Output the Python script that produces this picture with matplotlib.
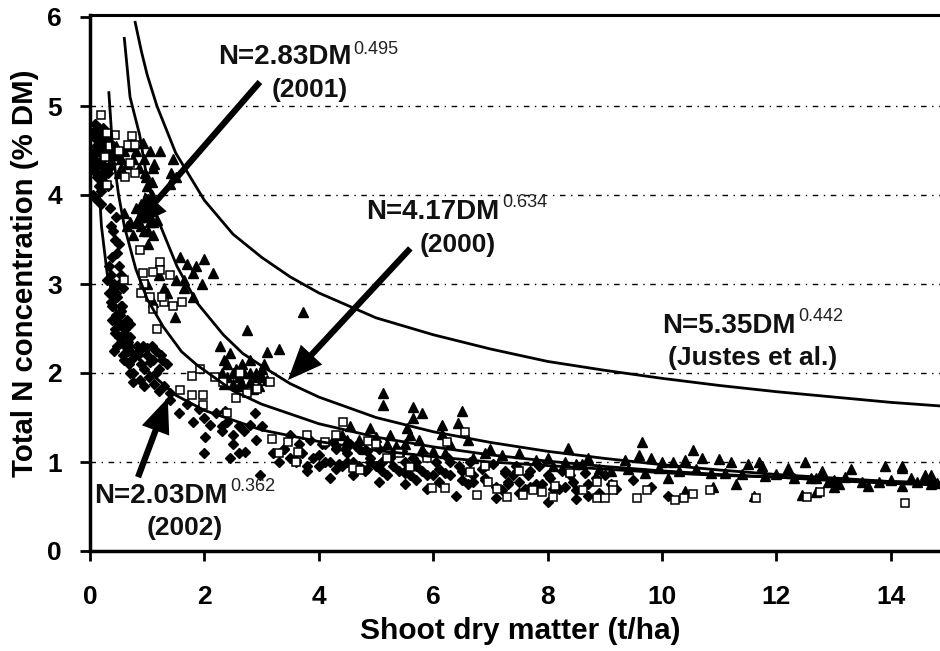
import matplotlib
matplotlib.use("Agg")
import matplotlib.pyplot as plt

plt.rcParams['font.family'] = ['Liberation Sans', 'DejaVu Sans']

# fitted curves
just_x = [0.79, 0.9, 1.0, 1.17, 1.5, 2, 2.5, 3, 3.5, 4, 5, 6, 7, 8, 9, 10, 11, 12, 13, 14, 14.86]
just_y = [5.94, 5.61, 5.35, 5.0, 4.47, 3.94, 3.56, 3.30, 3.08, 2.90, 2.62, 2.43, 2.27, 2.13, 2.03, 1.94, 1.86, 1.79, 1.73, 1.67, 1.63]
n2000_x = [0.6, 0.7, 0.87, 1.0, 1.17, 1.52, 1.87, 2.33, 2.67, 3, 3.5, 4, 5, 6, 7, 8, 9, 10, 11, 12, 13, 14, 14.86]
n2000_y = [5.76, 5.10, 4.67, 4.17, 3.75, 3.20, 2.79, 2.43, 2.22, 2.08, 1.88, 1.73, 1.50, 1.34, 1.22, 1.12, 1.04, 0.97, 0.91, 0.86, 0.82, 0.78, 0.75]
n2001_x = [0.33, 0.4, 0.5, 0.6, 0.8, 1.0, 1.28, 1.6, 1.87, 2.5, 3, 4, 5, 6, 7, 8, 9, 10, 11, 12, 13, 14, 14.86]
n2001_y = [5.15, 4.47, 4.0, 3.65, 3.17, 2.83, 2.52, 2.24, 2.09, 1.80, 1.65, 1.43, 1.28, 1.17, 1.08, 1.01, 0.95, 0.90, 0.86, 0.83, 0.79, 0.76, 0.74]
n2002_x = [0.12, 0.2, 0.3, 0.5, 0.7, 1.0, 1.5, 2, 3, 4, 5, 6, 7, 8, 9, 10, 11, 12, 13, 14, 14.86]
n2002_y = [4.5, 3.65, 3.12, 2.60, 2.30, 2.03, 1.75, 1.58, 1.36, 1.23, 1.13, 1.06, 1.00, 0.96, 0.92, 0.88, 0.85, 0.83, 0.80, 0.78, 0.77]

# observations 2000 (squares)
sq_x = [0.19,0.3,0.73,0.66,0.79,0.26,0.7,0.61,0.79,0.3,0.44,0.87,1.22,0.93,1.22,1.1,0.35,0.5,0.6,0.9,1.05,1.3,1.45,1.6,0.95,1.1,1.25,1.4,
        1.17,1.57,1.78,1.92,2.19,1.78,1.98,1.98,2.33,3.15,2.92,2.74,2.62,3.18,3.46,3.64,2.4,2.55,3.8,4.1,4.42,4.6,4.72,4.86,
        5.2,5.6,5.98,6.2,6.24,6.56,6.77,6.96,7.11,7.29,7.57,7.74,7.9,8.1,8.13,8.62,8.86,8.86,9.0,9.14,9.14,6.64,
        9.57,9.73,10.23,10.38,10.55,10.84,11.64,12.53,12.76,14.25,3.3,3.6,4.3,5.0,5.4,5.9,6.9,7.5,8.4]
sq_y = [4.9,4.7,4.66,4.56,4.56,4.43,4.36,4.2,4.25,4.11,4.67,3.38,3.25,3.12,3.16,3.13,4.55,4.5,3.05,2.9,2.85,2.8,2.75,2.8,3.0,2.72,2.85,3.1,
        2.5,1.81,1.97,2.05,1.96,1.75,1.75,1.64,1.9,1.9,1.82,1.78,2.0,1.26,1.22,1.11,1.55,1.72,1.3,1.22,1.45,0.93,0.91,1.24,
        1.05,0.94,0.71,0.71,1.22,1.34,0.63,0.78,0.7,0.61,0.63,0.69,0.66,0.61,0.73,0.69,0.78,0.6,0.6,0.74,0.69,0.89,
        0.6,0.68,0.57,0.6,0.64,0.68,0.6,0.61,0.66,0.54,1.1,1.0,1.3,1.2,1.1,1.05,0.95,0.9,0.88]

# observations 2001 (triangles)
tr_x = [0.1,0.15,0.2,0.25,0.3,0.35,0.4,0.45,0.5,0.55,0.6,0.65,0.7,0.75,0.8,0.85,0.93,0.95,0.97,1.0,1.02,1.05,1.08,1.1,1.22,1.45,1.42,1.5,1.4,
        0.7,0.8,0.9,1.0,1.1,1.17,0.75,0.95,1.57,1.7,1.85,2.0,2.15,1.65,1.8,1.95,1.0,1.2,1.35,1.5,1.65,1.8,1.49,1.1,1.3,
        3.72,2.74,3.1,3.3,2.27,2.35,2.45,2.55,2.65,2.8,2.9,3.0,3.1,2.4,2.6,2.85,3.0,
        5.12,5.12,5.65,5.65,5.8,6.5,6.43,6.15,6.15,5.55,5.6,5.25,4.9,4.55,4.4,4.7,5.0,5.35,5.8,6.3,6.7,7.0,7.5,8.0,8.36,8.3,8.7,
        9.65,10.54,9.35,9.6,9.8,10.0,10.2,10.4,10.7,11.0,11.2,11.5,11.7,11.75,12.2,12.5,12.8,13.3,13.9,14.2,14.7,
        10.1,10.4,10.9,11.3,11.6,12.7,12.9,13.0,13.6,14.2,14.7,14.6,14.2,14.35,12.45,12.7,13.1,
        8.1,8.5,8.9,9.1,9.4,9.7,9.95,10.3,10.6,10.85,11.1,11.4,11.8,12.0,12.3,12.6,13.0,13.2,13.5,13.8,14.0,14.45,14.8,
        1.05,1.12,0.98,1.08,0.9,1.0,1.1,0.85,0.95,1.05,0.8,0.9,0.65,0.6,0.55,0.5,0.45,1.02,1.1,1.02,
        2.3,2.4,2.5,2.6,2.7,2.8,2.9,2.35,2.5,2.65,2.8,2.95,3.05,4.3,4.5,4.8,5.2,5.4,5.5,5.75,6.0,6.2,6.6,6.9,7.2,7.8,8.6]
tr_y = [4.5,4.65,4.4,4.55,4.3,4.6,4.45,4.5,4.25,4.4,4.5,4.35,4.55,4.4,4.5,4.3,4.58,4.4,4.25,4.1,3.95,3.85,4.15,4.3,4.5,4.4,4.25,4.2,4.12,
        3.7,3.85,3.65,3.8,3.7,3.72,3.55,3.6,3.3,3.22,3.2,3.28,3.12,3.05,3.12,3.0,3.0,3.1,2.9,3.05,2.95,2.85,2.63,2.8,2.95,
        2.69,2.48,2.24,2.27,2.3,2.15,2.22,2.05,2.1,2.15,1.95,2.05,1.92,1.95,1.85,1.82,1.95,
        1.77,1.64,1.62,1.5,1.55,1.57,1.44,1.42,1.32,1.38,1.3,1.3,1.38,1.4,1.3,1.25,1.28,1.18,1.15,1.2,1.05,1.15,1.1,1.05,1.16,1.0,1.05,
        1.22,1.13,1.02,1.08,1.05,1.0,1.0,1.02,1.05,1.03,1.0,0.98,1.0,0.95,0.93,1.0,0.9,0.92,0.96,0.93,0.85,
        0.82,0.67,0.72,0.75,0.62,0.82,0.78,0.72,0.73,0.73,0.75,0.85,0.95,0.82,0.63,0.66,0.75,
        0.95,0.98,0.92,0.9,0.92,0.88,0.93,0.9,0.92,0.88,0.88,0.86,0.84,0.86,0.82,0.82,0.8,0.83,0.78,0.78,0.8,0.77,0.76,
        4.5,4.35,4.2,4.0,3.9,3.85,3.9,3.75,3.75,3.7,3.68,3.75,3.65,3.8,4.3,4.45,4.55,3.6,3.55,3.45,
        2.0,2.1,2.0,1.95,2.0,1.9,2.0,1.88,1.88,1.88,2.0,1.85,2.1,1.2,1.25,1.15,1.2,1.12,1.2,1.25,1.12,1.1,1.25,1.1,1.08,1.02,0.98]

# observations 2002 (diamonds)
di_x = [0.05,0.08,0.1,0.12,0.15,0.18,0.2,0.22,0.25,0.28,0.05,0.1,0.15,0.2,0.25,0.3,0.08,0.14,0.2,0.26,0.3,0.32,
        0.3,0.33,0.36,0.39,0.42,0.45,0.48,0.52,0.55,0.6,0.65,0.7,0.33,0.38,0.43,0.5,0.56,0.62,0.68,0.36,0.42,0.5,0.58,0.66,0.72,
        0.82,0.9,1.0,1.1,1.2,1.35,0.85,0.95,1.05,1.15,1.25,0.87,0.95,1.03,1.12,1.2,1.3,1.4,0.7,0.76,
        1.4,1.55,1.7,1.8,1.9,2.0,2.1,2.2,2.3,2.4,2.5,2.6,2.7,2.8,2.9,3.0,2.36,2.01,1.99,2.71,2.97,2.88,2.5,2.3,2.6,2.45,
        3.2,3.3,3.4,3.5,3.6,3.7,3.8,3.9,4.0,4.1,4.2,4.3,4.4,4.5,4.6,4.7,4.8,4.9,5.0,5.1,5.2,5.3,5.4,5.5,5.6,5.7,5.8,
        3.4,3.6,3.8,4.0,4.2,4.35,4.6,4.55,4.85,5.05,5.1,5.5,5.55,5.7,5.9,6.0,6.1,6.3,6.4,6.2,6.5,6.6,
        6.7,6.9,7.1,7.3,7.4,7.5,7.7,7.8,8.0,8.2,8.4,8.5,8.7,8.9,9.0,9.2,9.5,9.8,10.1,7.2,7.25,7.6,8.0,8.7,6.9,9.1,
        0.04,0.07,0.1,0.13,0.16,0.19,0.22,0.25,0.28,0.31,0.34,0.37,0.04,0.07,0.1,0.13,0.16,0.19,0.22,0.25,0.28,0.31,0.34,0.37,
        0.35,0.4,0.45,0.5,0.38,0.44,0.5,0.36,0.42,0.48,0.54,0.4,0.46,0.52,0.58,0.44,0.5,0.56,0.62,0.48,0.54,0.6,0.66,
        0.55,0.62,0.7,0.78,0.6,0.68,0.76,0.84,0.92,1.0,1.08,1.16,1.24,
        3.5,3.65,3.85,4.05,4.25,4.45,4.65,4.85,5.05,5.25,5.45,5.65,5.85,6.05,6.25,6.45,6.65,6.85,7.05,7.25,7.45,7.65,7.85,8.05,8.25,8.45,8.65,8.85,
        4.1,4.3,4.5,4.7,4.9,5.1,5.3,5.5,5.7,5.9,6.1,6.3,6.5,6.7,6.9,7.1,7.3,7.5,7.7,7.9,8.1,8.3,8.5]
di_y = [4.3,4.5,4.7,4.2,4.55,4.35,4.6,4.25,4.45,4.3,4.0,3.95,4.1,3.9,4.15,4.3,4.8,4.75,4.05,4.6,4.45,4.1,
        3.05,2.9,3.1,2.75,2.95,2.65,2.85,2.55,2.7,2.45,2.6,2.4,3.2,2.6,2.5,3.0,2.35,2.5,2.3,2.8,2.25,2.4,2.2,2.35,2.15,
        2.3,2.1,2.2,2.15,2.05,2.1,2.25,2.05,2.12,2.0,2.15,1.92,1.85,1.95,1.88,1.8,1.85,1.78,2.0,1.9,
        1.7,1.55,1.65,1.45,1.6,1.5,1.42,1.55,1.35,1.45,1.3,1.4,1.35,1.42,1.25,1.4,1.57,1.28,1.1,1.11,0.85,1.55,1.2,1.4,1.1,1.05,
        1.1,1.0,1.15,1.05,1.0,1.1,0.95,1.05,0.95,1.2,1.0,1.15,0.95,1.1,1.0,1.15,0.9,1.05,0.95,1.0,0.85,1.1,0.9,1.0,0.85,1.0,0.9,
        1.15,1.02,0.9,1.08,0.82,0.98,0.85,1.2,0.92,0.78,1.0,0.75,0.92,0.8,0.7,0.85,0.78,1.0,0.62,0.88,0.9,0.75,
        0.85,0.95,0.6,0.75,0.85,0.65,0.9,0.75,0.55,0.7,0.85,0.58,0.75,0.65,0.85,0.7,0.8,0.72,0.62,0.68,0.9,0.7,0.85,0.62,0.8,0.75,
        4.4,4.65,4.25,4.5,4.75,4.2,4.4,4.6,4.25,4.5,4.3,4.45,4.7,4.35,4.55,4.25,4.7,4.5,4.75,4.3,4.65,4.25,4.6,4.35,
        3.85,3.6,3.75,3.45,3.3,3.5,3.2,3.65,3.0,3.35,3.1,2.75,2.9,2.65,2.95,2.45,2.55,2.75,2.5,2.3,2.4,2.55,2.25,
        2.75,2.3,2.55,2.2,2.15,2.1,2.0,2.2,2.3,2.28,2.3,2.25,2.2,
        1.3,1.2,1.25,1.2,1.22,1.15,1.18,1.12,1.15,1.05,1.12,1.05,1.08,1.0,1.05,0.95,1.0,0.92,0.98,0.88,0.95,0.85,0.95,0.82,0.9,0.78,0.88,0.82,
        1.0,0.92,1.0,0.95,1.0,0.9,0.95,0.88,0.95,0.85,0.92,0.85,0.8,0.78,0.82,0.72,0.78,0.78,0.72,0.75,0.7,0.72,0.68]

x_ticks = [0, 2, 4, 6, 8, 10, 12, 14]
y_ticks = [0, 1, 2, 3, 4, 5, 6]

W, H = 940, 651
fig = plt.figure(figsize=(W/100, H/100), dpi=100)
L, R, T, B = 90, 940, 15, 551
ax = fig.add_axes([L/W, 1-B/H, (R-L)/W, (B-T)/H])
ax.set_xlim(0, (R-L)/57.2)
ax.set_ylim(0, (B-T)/89.0)

ax.spines['right'].set_visible(False)
for s in ['left', 'bottom', 'top']:
    ax.spines[s].set_linewidth(2.5)
ax.spines['top'].set_linewidth(2.2)

for v in y_ticks[1:-1]:
    ax.axhline(v, color='black', lw=1.0, ls=(0, (4, 4, 1, 4)), zorder=1)

ax.set_xticks(x_ticks)
ax.set_yticks(y_ticks)
ax.tick_params(axis='x', length=7.2, width=2, direction='out', labelsize=19, pad=17)
ax.tick_params(axis='y', length=7.2, width=2, direction='out', labelsize=19, pad=13)
for t in ax.get_xticklabels() + ax.get_yticklabels():
    t.set_fontweight('bold')

ax.plot(di_x, di_y, ls='none', marker='D', ms=5.6, color='black', zorder=2)
ax.plot(tr_x, tr_y, ls='none', marker='^', ms=7.8, color='black', zorder=3)
ax.plot(sq_x, sq_y, ls='none', marker='s', ms=5.8, mfc='white', mec='black', mew=1.1, zorder=3.5)

for cx, cy in [(just_x, just_y), (n2000_x, n2000_y), (n2001_x, n2001_y), (n2002_x, n2002_y)]:
    ax.plot(cx, cy, color='black', lw=2.0, zorder=4)

def arrow(tail, tip):
    ax.annotate('', xy=tip, xytext=tail, zorder=5,
                arrowprops=dict(facecolor='black', edgecolor='black', width=4.5,
                                headwidth=21, headlength=25, shrink=0, lw=0))

arrow((2.97, 5.27), (0.75, 3.63))
arrow((5.6, 3.4), (3.46, 1.92))
arrow((0.84, 0.83), (1.36, 1.72))

def px(x, y):
    return (x/W, 1-y/H)

def eq(x, y, main, sup, supx, supy):
    fig.text(*px(x, y), main, fontsize=20, fontweight='bold', color='#111111', ha='left', va='baseline', zorder=6)
    fig.text(*px(supx, supy), sup, fontsize=13, color='#222222', ha='left', va='baseline', zorder=6)

def sub(x, y, s):
    fig.text(*px(x, y), s, fontsize=19, fontweight='bold', color='#111111', ha='center', va='baseline', zorder=6)

eq(218, 64, 'N=2.83DM', '0.495', 353, 54)
sub(310, 97, '(2001)')
eq(366, 219, 'N=4.17DM', '0.634', 502, 207)
sub(458, 252, '(2000)')
eq(662, 333, 'N=5.35DM', '0.442', 798, 321)
sub(753, 365, '(Justes et al.)')
eq(94, 503, 'N=2.03DM', '0.362', 230, 491)
sub(185, 535, '(2002)')

fig.text(*px(520, 639), 'Shoot dry matter (t/ha)', fontsize=21.5, fontweight='bold', ha='center', va='baseline')
fig.text(*px(25, 273), 'Total N concentration (% DM)', fontsize=21.2, fontweight='bold', rotation=90, ha='center', va='center')

fig.savefig('out.png', dpi=100)
